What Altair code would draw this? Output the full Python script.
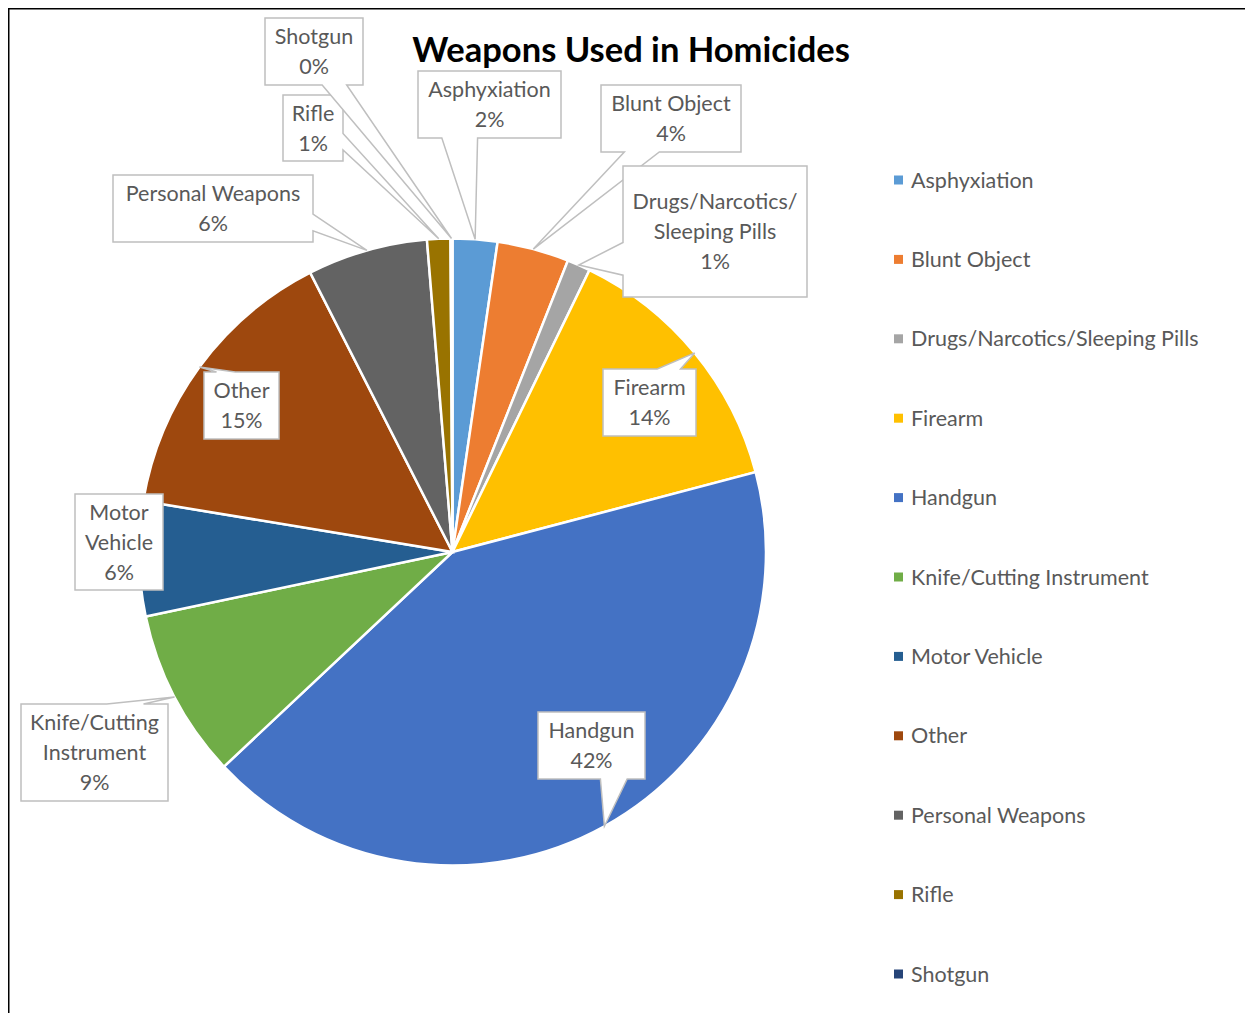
import math
import altair as alt
import pandas as pd

# ---------------- data ----------------
categories = [
    "Asphyxiation", "Blunt Object", "Drugs/Narcotics/Sleeping Pills", "Firearm",
    "Handgun", "Knife/Cutting Instrument", "Motor Vehicle", "Other",
    "Personal Weapons", "Rifle", "Shotgun",
]
shares = [2.3, 3.7, 1.2, 13.7, 42.1, 8.7, 5.9, 14.9, 6.2, 1.2, 0.1]
label_lines = [
    ["Asphyxiation"], ["Blunt Object"], ["Drugs/Narcotics/", "Sleeping Pills"],
    ["Firearm"], ["Handgun"], ["Knife/Cutting", "Instrument"], ["Motor", "Vehicle"],
    ["Other"], ["Personal Weapons"], ["Rifle"], ["Shotgun"],
]
colors = [
    "#5B9BD5", "#ED7D31", "#A5A5A5", "#FFC000", "#4472C4", "#70AD47",
    "#255E91", "#9E480E", "#636363", "#997300", "#264478",
]
title_text = "Weapons Used in Homicides"

# ---------------- layout (reference page pixels) ----------------
OFF = 8
W, H = 1237, 1005
CX, CY, R = 452.5, 552.0, 313.5
box_rects = [  # x0, x1, y0, y1
    (418, 561, 71, 138),
    (601, 741, 85, 152),
    (623, 807, 166, 297),
    (603, 696, 369, 436),
    (538, 645, 712, 779),
    (21, 168, 704, 801),
    (75, 163, 494, 590),
    (204, 279, 372, 439),
    (113, 313, 175, 242),
    (283, 343, 95, 161),
    (265, 363, 18, 85),
]
LINE_H = 30
TXT_DY = 1.5
FONT = "Lato"
FONT_SIZE = 21.5
TXT_COLOR = "#595959"
BOX_STROKE = "#BFBFBF"
LEG_SYM_X, LEG_TXT_X = 898.5, 911
LEG_Y0, LEG_Y1 = 180, 974

# ---------------- tables ----------------
total = sum(shares)
slices = pd.DataFrame({"category": categories, "share": shares, "idx": list(range(len(categories)))})


def wedge_path(x0, x1, y0, y1, tx, ty):
    w, h = x1 - x0, y1 - y0
    hc, vc = (x0 + x1) / 2, (y0 + y1) / 2
    dx, dy = tx - hc, ty - vc
    if x0 <= tx <= x1 and y0 <= ty <= y1:
        pts = [(x0, y0), (x1, y0), (x1, y1), (x0, y1)]
    elif abs(dy) > abs(dx * h / w):
        xa = x0 + w * (7 / 12 if dx > 0 else 2 / 12)
        xb = x0 + w * (10 / 12 if dx > 0 else 5 / 12)
        if dy > 0:
            pts = [(x0, y0), (x1, y0), (x1, y1), (xb, y1), (tx, ty), (xa, y1), (x0, y1)]
        else:
            pts = [(x0, y0), (xa, y0), (tx, ty), (xb, y0), (x1, y0), (x1, y1), (x0, y1)]
    else:
        ya = y0 + h * (7 / 12 if dy > 0 else 2 / 12)
        yb = y0 + h * (10 / 12 if dy > 0 else 5 / 12)
        if dx > 0:
            pts = [(x0, y0), (x1, y0), (x1, ya), (tx, ty), (x1, yb), (x1, y1), (x0, y1)]
        else:
            pts = [(x0, y0), (x1, y0), (x1, y1), (x0, y1), (x0, yb), (tx, ty), (x0, ya)]
    pts = [(px - OFF, py - OFF) for px, py in pts]
    return "M" + " L".join(f"{px:.2f},{py:.2f}" for px, py in pts) + " Z"


paths, text_rows = [], []
cum = 0.0
for i, (cat, v) in enumerate(zip(categories, shares)):
    mid = (cum + v / 2) / total * 2 * math.pi
    cum += v
    tx, ty = CX + R * math.sin(mid), CY - R * math.cos(mid)
    x0, x1, y0, y1 = box_rects[i]
    paths.append({"path": wedge_path(x0, x1, y0, y1, tx, ty), "idx": i})
    lines = label_lines[i] + [f"{round(v / total * 100)}%"]
    n = len(lines)
    vc = (y0 + y1) / 2
    for j, ln in enumerate(lines):
        text_rows.append({"tx": (x0 + x1) / 2 - OFF,
                          "ty": vc + (j - (n - 1) / 2) * LINE_H - OFF + TXT_DY, "t": ln})

callouts = pd.DataFrame(paths)
texts = pd.DataFrame(text_rows)
legend_df = pd.DataFrame({"category": categories})

color_scale = alt.Scale(domain=categories, range=colors)

arc = alt.Chart(slices).mark_arc(outerRadius=R, stroke="white", strokeWidth=2.5).encode(
    theta=alt.Theta("share:Q", stack=True),
    order=alt.Order("idx:Q"),
    color=alt.Color("category:N", scale=color_scale, legend=None),
    x=alt.value(CX - OFF),
    y=alt.value(CY - OFF),
)

boxes = alt.Chart(callouts).mark_point(
    filled=True, fill="white", stroke=BOX_STROKE, strokeWidth=1.5, opacity=1, size=4
).encode(
    shape=alt.Shape("path:N", scale=None),
    x=alt.value(0),
    y=alt.value(0),
    order=alt.Order("idx:Q"),
)

box_text = alt.Chart(texts).mark_text(
    font=FONT, fontSize=FONT_SIZE, color=TXT_COLOR, align="center", baseline="middle"
).encode(
    x=alt.X("tx:Q", scale=None, axis=None),
    y=alt.Y("ty:Q", scale=None, axis=None),
    text="t:N",
)

leg_y = alt.Y("category:N", scale=alt.Scale(domain=categories, range=[LEG_Y0 - OFF + TXT_DY, LEG_Y1 - OFF + TXT_DY], padding=0), axis=None)
leg_y_sym = alt.Y("category:N", scale=alt.Scale(domain=categories, range=[LEG_Y0 - OFF, LEG_Y1 - OFF], padding=0), axis=None)
leg_sq = alt.Chart(legend_df).mark_square(size=81, opacity=1).encode(
    x=alt.value(LEG_SYM_X - OFF),
    y=leg_y_sym,
    color=alt.Color("category:N", scale=color_scale, legend=None),
)
leg_txt = alt.Chart(legend_df).mark_text(
    font=FONT, fontSize=FONT_SIZE, color=TXT_COLOR, align="left", baseline="middle"
).encode(
    x=alt.value(LEG_TXT_X - OFF),
    y=leg_y,
    text="category:N",
)

title = alt.Chart(pd.DataFrame({"t": [title_text]})).mark_text(
    font=FONT, fontSize=34.5, fontWeight="bold", color="black", align="center", baseline="alphabetic"
).encode(
    x=alt.value(631 - OFF),
    y=alt.value(62 - OFF),
    text="t:N",
)

border_top = alt.Chart(pd.DataFrame({"a": [0]})).mark_rule(color="black", strokeWidth=1.5).encode(
    x=alt.value(0), x2=alt.value(W), y=alt.value(0.75)
)
border_left = alt.Chart(pd.DataFrame({"a": [0]})).mark_rule(color="black", strokeWidth=1.5).encode(
    x=alt.value(0.75), y=alt.value(0), y2=alt.value(H)
)

chart = (
    alt.layer(arc, boxes, box_text, leg_sq, leg_txt, title, border_top, border_left)
    .resolve_scale(x="independent", y="independent")
    .properties(width=W, height=H, padding=0, autosize=alt.AutoSizeParams(type="none"), background="white")
    .configure_view(stroke=None)
)

chart.save("out.html", embed_options={"renderer": "svg", "actions": False})
